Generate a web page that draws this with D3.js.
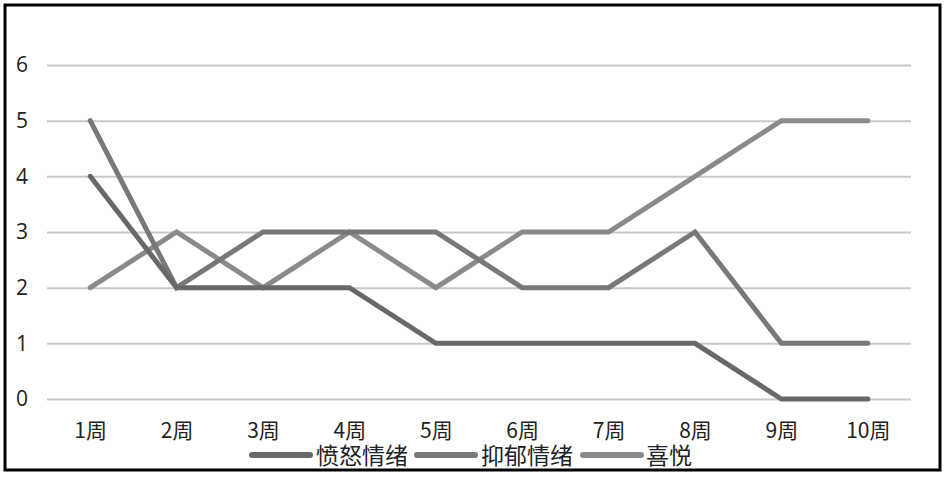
<!DOCTYPE html>
<html><head><meta charset="utf-8">
<script src="https://cdn.jsdelivr.net/npm/d3@7"></script>
<style>
html,body{margin:0;padding:0;background:#fff;}
svg{display:block;}
text{font-family:"Noto Sans CJK SC","Noto Sans",sans-serif;fill:#222;}
</style></head>
<body>
<script>
const categories = ["1周","2周","3周","4周","5周","6周","7周","8周","9周","10周"];
const seriesNames = ["愤怒情绪","抑郁情绪","喜悦"];
const anger = [4,2,2,2,1,1,1,1,0,0];
const depression = [5,2,3,3,3,2,2,3,1,1];
const joy = [2,3,2,3,2,3,3,4,5,5];
const yTicks = [0,1,2,3,4,5,6];
const colors = ["#686868","#787878","#8a8a8a"];

const W = 945, H = 477;
const svg = d3.select("body").append("svg").attr("width", W).attr("height", H);

svg.append("rect").attr("x",5).attr("y",5).attr("width",935).attr("height",465)
  .attr("fill","#fff").attr("stroke","#000").attr("stroke-width",3);

const x = d3.scalePoint().domain(categories).range([47, 911]).padding(0.5);
const y = d3.scaleLinear().domain([0,6]).range([399, 65]);

// gridlines
const yAxis = d3.axisLeft(y).tickValues(yTicks).tickSize(-(911-47)).tickFormat(d3.format("d"));
const gy = svg.append("g").attr("transform","translate(47,0)").call(yAxis);
gy.select(".domain").remove();
gy.selectAll(".tick line").attr("stroke","#c8c8c8").attr("stroke-width",2);
gy.selectAll(".tick text").attr("x",-19).attr("font-size",21).attr("fill","#222")
  .style("font-family","'Open Sans','Noto Sans',sans-serif");

const xAxis = d3.axisBottom(x).tickSize(0);
const gx = svg.append("g").attr("transform","translate(0,399)").call(xAxis);
gx.select(".domain").remove();
gx.selectAll(".tick text").attr("y",24).attr("font-size",21).attr("fill","#222");

const series = [anger, depression, joy];
const line = d3.line().x((d,i)=>x(categories[i])).y(d=>y(d));
[2,1,0].forEach(k=>{
  svg.append("path").datum(series[k]).attr("d", line)
    .attr("fill","none").attr("stroke",colors[k]).attr("stroke-width",5)
    .attr("stroke-linejoin","miter").attr("stroke-linecap","round");
});

// legend
const legendItems = [
  {name: seriesNames[0], x1: 252, x2: 310, tx: 316},
  {name: seriesNames[1], x1: 417, x2: 475, tx: 481},
  {name: seriesNames[2], x1: 583, x2: 641, tx: 646}
];
const lg = svg.append("g");
legendItems.forEach((it,k)=>{
  lg.append("line").attr("x1",it.x1).attr("x2",it.x2).attr("y1",455).attr("y2",455)
    .attr("stroke",colors[k]).attr("stroke-width",6).attr("stroke-linecap","round");
  lg.append("text").attr("x",it.tx).attr("y",464).attr("font-size",23).text(it.name);
});
</script>
</body></html>
